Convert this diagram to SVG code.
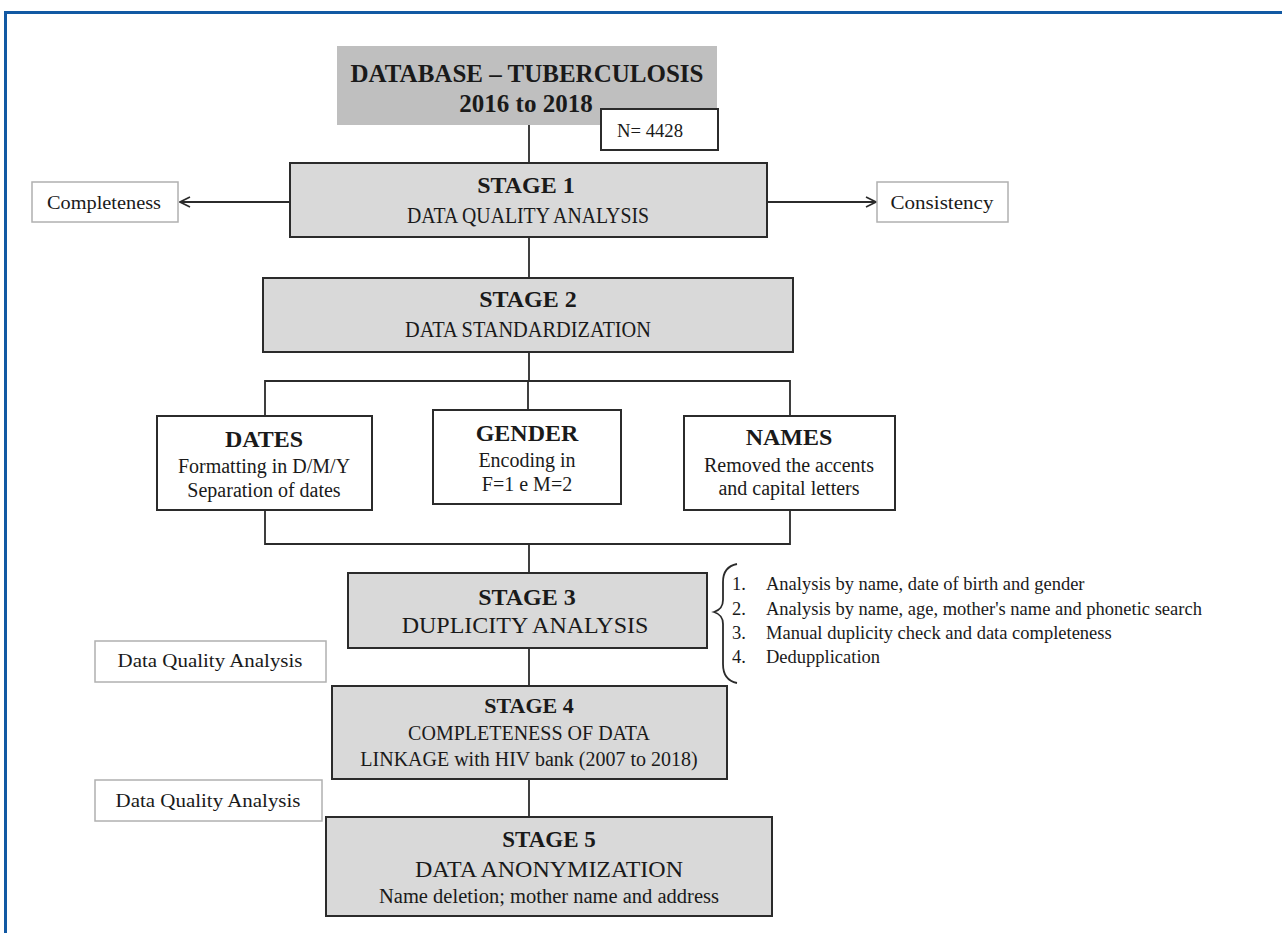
<svg xmlns="http://www.w3.org/2000/svg" width="1282" height="933" viewBox="0 0 1282 933">
<defs>
<style>
text{font-family:"Liberation Serif","Times New Roman",serif;fill:#1a1a1a;text-anchor:middle}
.b{font-weight:bold}
.stage{fill:#d9d9d9;stroke:#2b2b2b;stroke-width:2}
.wbox{fill:#fff;stroke:#2b2b2b;stroke-width:2}
.lbox{fill:#fff;stroke:#b0b0b0;stroke-width:1.5}
.ln{stroke:#2b2b2b;stroke-width:1.8;fill:none}
.lst{text-anchor:start;font-size:18.5px}
.lab{font-size:19px}
</style>
<marker id="arr" viewBox="0 0 12 12" refX="11" refY="6" markerWidth="12" markerHeight="12" markerUnits="userSpaceOnUse" orient="auto">
<path d="M1,1 L11,6 L1,11" fill="none" stroke="#2b2b2b" stroke-width="1.6"/>
</marker>
</defs>
<rect width="1282" height="933" fill="#fff"/>
<path d="M5.5,933 V12.5 H1282" fill="none" stroke="#1259a3" stroke-width="3"/>

<g id="connectors">
<line class="ln" x1="529" y1="125" x2="529" y2="163"/>
<line class="ln" x1="290" y1="202" x2="180" y2="202" marker-end="url(#arr)"/>
<line class="ln" x1="767" y1="202" x2="876" y2="202" marker-end="url(#arr)"/>
<line class="ln" x1="529" y1="237" x2="529" y2="278"/>
<line class="ln" x1="529" y1="352" x2="529" y2="381"/>
<path class="ln" d="M265,416 V381 H790 V416"/>
<line class="ln" x1="528" y1="381" x2="528" y2="410"/>
<path class="ln" d="M265,510 V544 H790 V510"/>
<line class="ln" x1="529" y1="544" x2="529" y2="573"/>
<line class="ln" x1="529" y1="648" x2="529" y2="686"/>
<line class="ln" x1="529" y1="779" x2="529" y2="817"/>
<path class="ln" d="M737,564 C727,566 723,572 723,582 V600 C723,607 720,610 714,612 C720,614 723,617 723,624 V664 C723,675 727,681 737,683" stroke-width="1.5"/>
</g>

<g id="db">
<rect x="337" y="46" width="380" height="79" fill="#bfbfbf"/>
<text class="b" x="527" y="82" font-size="25">DATABASE – TUBERCULOSIS</text>
<text class="b" x="526" y="112" font-size="25">2016 to 2018</text>
</g>
<g id="n">
<rect class="wbox" x="601" y="109" width="117" height="41"/>
<text x="650" y="137" font-size="18" textLength="66" lengthAdjust="spacingAndGlyphs">N= 4428</text>
</g>

<g id="stage1">
<rect class="stage" x="290" y="163" width="477" height="74"/>
<text class="b" x="526" y="193" font-size="24">STAGE 1</text>
<text x="528" y="223" font-size="24" textLength="242" lengthAdjust="spacingAndGlyphs">DATA QUALITY ANALYSIS</text>
</g>
<g id="completeness">
<rect class="lbox" x="32" y="182" width="146" height="40"/>
<text class="lab" x="104" y="209" textLength="114" lengthAdjust="spacingAndGlyphs">Completeness</text>
</g>
<g id="consistency">
<rect class="lbox" x="877" y="182" width="131" height="40"/>
<text class="lab" x="942" y="209" textLength="103" lengthAdjust="spacingAndGlyphs">Consistency</text>
</g>

<g id="stage2">
<rect class="stage" x="263" y="278" width="530" height="74"/>
<text class="b" x="528" y="307" font-size="24">STAGE 2</text>
<text x="528" y="337" font-size="24" textLength="246" lengthAdjust="spacingAndGlyphs">DATA STANDARDIZATION</text>
</g>

<g id="dates">
<rect class="wbox" x="157" y="416" width="215" height="94"/>
<text class="b" x="264" y="447" font-size="24">DATES</text>
<text x="264" y="473" font-size="20">Formatting in D/M/Y</text>
<text x="264" y="497" font-size="20">Separation of dates</text>
</g>
<g id="gender">
<rect class="wbox" x="433" y="410" width="188" height="94"/>
<text class="b" x="527" y="441" font-size="24">GENDER</text>
<text x="527" y="467" font-size="20">Encoding in</text>
<text x="527" y="491" font-size="20">F=1  e M=2</text>
</g>
<g id="names">
<rect class="wbox" x="684" y="416" width="211" height="94"/>
<text class="b" x="789" y="445" font-size="24">NAMES</text>
<text x="789" y="472" font-size="20">Removed the accents</text>
<text x="789" y="495" font-size="20">and capital letters</text>
</g>

<g id="stage3">
<rect class="stage" x="348" y="573" width="359" height="75"/>
<text class="b" x="527" y="605" font-size="24">STAGE 3</text>
<text x="525" y="633" font-size="24">DUPLICITY ANALYSIS</text>
</g>
<g id="steps">
<text class="lst" x="732" y="590">1.</text><text class="lst" x="766" y="590">Analysis by name, date of birth and gender</text>
<text class="lst" x="732" y="615">2.</text><text class="lst" x="766" y="615">Analysis by name, age, mother's name and phonetic search</text>
<text class="lst" x="732" y="639">3.</text><text class="lst" x="766" y="639">Manual duplicity check and data completeness</text>
<text class="lst" x="732" y="663">4.</text><text class="lst" x="766" y="663">Dedupplication</text>
</g>

<g id="dqa1">
<rect class="lbox" x="95" y="641" width="231" height="41"/>
<text class="lab" x="210" y="667" textLength="185" lengthAdjust="spacingAndGlyphs">Data Quality Analysis</text>
</g>

<g id="stage4">
<rect class="stage" x="332" y="686" width="395" height="93"/>
<text class="b" x="529" y="713" font-size="22">STAGE 4</text>
<text x="529" y="740" font-size="20">COMPLETENESS  OF DATA</text>
<text x="529" y="766" font-size="20">LINKAGE  with HIV  bank (2007  to 2018)</text>
</g>

<g id="dqa2">
<rect class="lbox" x="95" y="780" width="227" height="41"/>
<text class="lab" x="208" y="807" textLength="185" lengthAdjust="spacingAndGlyphs">Data Quality Analysis</text>
</g>

<g id="stage5">
<rect class="stage" x="326" y="817" width="446" height="99"/>
<text class="b" x="549" y="847" font-size="23">STAGE 5</text>
<text x="549" y="877" font-size="24">DATA ANONYMIZATION</text>
<text x="549" y="903" font-size="20" textLength="340" lengthAdjust="spacingAndGlyphs">Name  deletion; mother name and address</text>
</g>
</svg>
